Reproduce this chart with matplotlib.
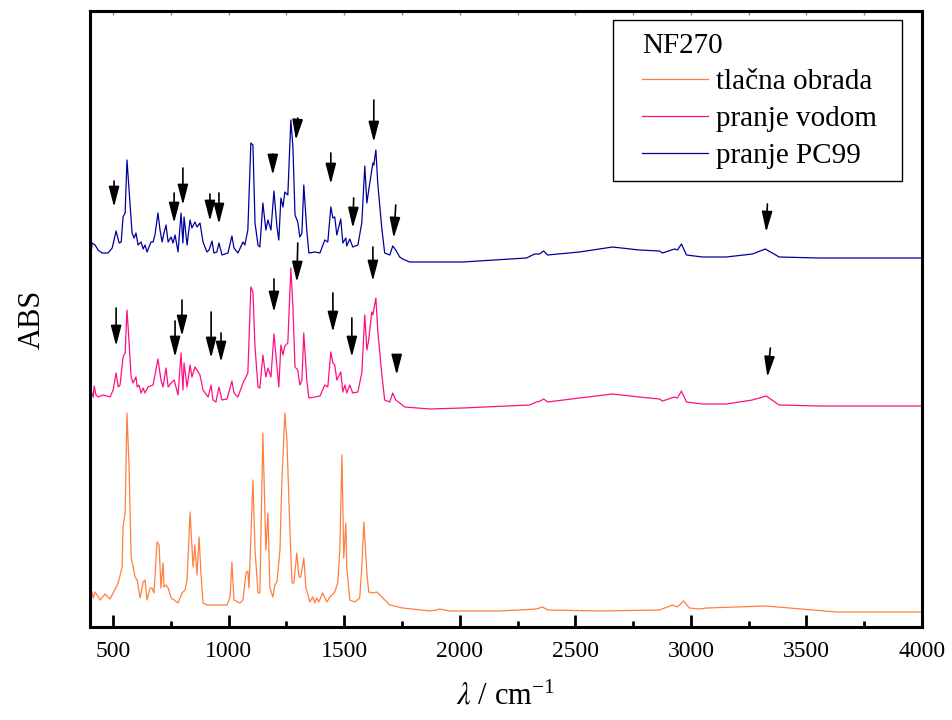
import numpy as np
import matplotlib
matplotlib.use('Agg')
import matplotlib.pyplot as plt
from matplotlib.ticker import MultipleLocator
from matplotlib.patches import Rectangle

plt.rcParams['font.family'] = ['Liberation Serif', 'DejaVu Serif']
plt.rcParams['mathtext.fontset'] = 'stix'

# spectra (wavenumber / cm-1, absorbance in arbitrary units)
wn_tlacna = [400, 409, 414, 422, 444, 465, 487, 500, 522, 539, 543, 552, 560, 569, 578, 595, 604, 617, 630, 638,
             647, 660, 668, 677, 690, 699, 707, 716, 720, 729, 738, 751, 764, 781, 798, 811, 820, 833, 846, 854,
             863, 872, 880, 889, 906, 941, 993, 1006, 1014, 1023, 1049, 1062, 1075, 1083, 1088, 1105, 1114, 1127,
             1135, 1148, 1161, 1170, 1178, 1191, 1200, 1209, 1222, 1230, 1243, 1252, 1265, 1274, 1282, 1295, 1304,
             1312, 1325, 1334, 1351, 1364, 1373, 1381, 1390, 1407, 1425, 1438, 1459, 1472, 1481, 1490, 1498, 1507,
             1511, 1524, 1546, 1567, 1576, 1585, 1598, 1606, 1624, 1641, 1667, 1697, 1753, 1870, 1900, 1913, 1956,
             2173, 2332, 2358, 2380, 2604, 2864, 2920, 2942, 2968, 2994, 3037, 3067, 3326, 3629, 3987, 4000]
abs_tlacna = [30, 35, 29, 35, 27, 33, 28, 34, 44, 60, 100, 114, 214, 160, 70, 50, 47, 29, 45, 47,
              27, 39, 39, 34, 85, 82, 39, 64, 40, 42, 39, 29, 27, 24, 34, 37, 47, 115, 60, 82,
              52, 90, 54, 24, 22, 22, 22, 30, 65, 27, 24, 27, 54, 56, 39, 147, 77, 34,
              34, 194, 77, 114, 40, 30, 42, 45, 77, 144, 214, 187, 97, 44, 44, 74, 50,
              50, 69, 40, 25, 30, 24, 29, 25, 34, 25, 30, 35, 44, 77, 172, 69, 104,
              60, 27, 25, 29, 60, 105, 54, 35, 34, 35, 29, 22, 19, 16, 17, 18, 16,
              16, 18, 20, 17, 16, 17, 22, 20, 26, 19, 18, 19, 21, 15, 15, 15]

wn_voda = [400, 414, 418, 426, 435, 457, 487, 500, 513, 522, 530, 543, 552, 560, 565, 578, 586, 599, 604, 612,
           621, 630, 638, 651, 673, 694, 707, 716, 729, 738, 751, 764, 772, 781, 794, 802, 807, 820, 833, 841,
           854, 863, 876, 889, 911, 924, 932, 945, 958, 971, 993, 1014, 1023, 1040, 1062, 1083, 1096, 1105,
           1114, 1127, 1135, 1148, 1161, 1170, 1183, 1196, 1209, 1217, 1226, 1235, 1243, 1256, 1269, 1278,
           1287, 1299, 1308, 1317, 1325, 1338, 1347, 1373, 1395, 1416, 1429, 1442, 1451, 1459, 1468, 1485,
           1494, 1503, 1511, 1524, 1537, 1559, 1576, 1589, 1598, 1606, 1619, 1624, 1637, 1645, 1662, 1675,
           1697, 1710, 1723, 1740, 1762, 1814, 1870, 2012, 2302, 2332, 2349, 2363, 2380, 2518, 2661, 2777,
           2864, 2877, 2929, 2942, 2959, 2981, 3050, 3153, 3266, 3326, 3382, 3555, 3987, 4000]
abs_voda = [240, 230, 241, 232, 230, 232, 230, 237, 254, 240, 242, 270, 274, 317, 300, 250, 244, 250, 240, 242,
            234, 239, 234, 240, 242, 268, 247, 240, 259, 240, 244, 247, 240, 232, 274, 237, 264, 240, 262, 250,
            260, 257, 252, 237, 230, 242, 227, 225, 240, 227, 228, 246, 234, 230, 244, 254, 340, 335,
            280, 240, 239, 272, 250, 259, 250, 293, 260, 240, 282, 272, 281, 284, 359, 320,
            260, 257, 242, 247, 294, 247, 229, 230, 231, 242, 240, 275, 264, 262, 247, 255,
            235, 242, 234, 242, 234, 235, 254, 312, 277, 287, 315, 312, 329, 297, 254, 227,
            225, 234, 227, 224, 220, 219, 218, 219, 222, 225, 226, 228, 225, 229, 233, 230,
            228, 226, 230, 229, 236, 225, 223, 223, 227, 231, 222, 221, 221, 221]

wn_pc99 = [400, 405, 409, 422, 435, 452, 478, 496, 513, 526, 535, 543, 552, 560, 569, 582, 591, 599, 608, 621, 630,
           638, 647, 664, 673, 681, 694, 703, 712, 720, 729, 738, 751, 759, 768, 781, 794, 802, 807, 820, 833,
           841, 854, 863, 876, 889, 906, 915, 928, 936, 949, 958, 971, 997, 1014, 1023, 1040, 1062, 1070,
           1083, 1096, 1105, 1114, 1127, 1135, 1148, 1161, 1170, 1183, 1196, 1209, 1217, 1226, 1235, 1243,
           1256, 1269, 1278, 1287, 1299, 1308, 1317, 1325, 1338, 1347, 1373, 1395, 1416, 1429, 1442, 1451,
           1459, 1468, 1485, 1494, 1507, 1511, 1524, 1537, 1559, 1576, 1589, 1598, 1606, 1624, 1628, 1637,
           1645, 1662, 1675, 1697, 1710, 1723, 1740, 1753, 1783, 1870, 2012, 2289, 2324, 2345, 2363, 2380,
           2518, 2661, 2777, 2864, 2877, 2929, 2942, 2959, 2981, 3050, 3153, 3266, 3322, 3382, 3555, 3987, 4000]
abs_pc99 = [380, 374, 384, 382, 377, 374, 374, 379, 396, 384, 385, 410, 414, 467, 437, 394, 389, 394, 382, 385, 378,
            382, 375, 385, 385, 392, 414, 397, 385, 394, 402, 385, 390, 384, 392, 375, 414, 384, 410, 382, 407,
            399, 405, 400, 404, 385, 375, 377, 386, 374, 375, 384, 372, 374, 391, 379, 374, 385, 382,
            397, 484, 482, 404, 382, 380, 424, 397, 407, 397, 436, 400, 387, 429, 420, 435,
            432, 507, 480, 412, 405, 390, 394, 442, 397, 374, 375, 374, 387, 385, 420, 409,
            410, 392, 408, 384, 389, 381, 388, 380, 382, 404, 461, 424, 437, 464, 462, 477,
            444, 400, 374, 372, 381, 377, 370, 368, 365, 365, 365, 369, 373, 373, 376, 372,
            375, 380, 377, 376, 374, 378, 377, 383, 372, 370, 370, 373, 378, 370, 369, 369, 369]

# arrows: (wn at tail, wn at tip, y at tail, y at tip)
arrow_wn_top = [504, 764, 802, 919, 958, 1191, 1299, 1442, 1541, 1628, 1723, 3331,
                513, 768, 798, 924, 967, 1196, 1299, 1451, 1533, 1624, 1727, 3344]
arrow_wn_tip = [504, 764, 802, 919, 958, 1191, 1291, 1442, 1537, 1628, 1714, 3326,
                513, 768, 798, 924, 967, 1196, 1295, 1451, 1533, 1624, 1727, 3331]
arrow_y_top = [446, 434, 459, 433, 434, 473, 509, 474, 429, 527, 422, 423,
               319, 306, 327, 315, 294, 348, 384, 334, 309, 380, 269, 279]
arrow_y_tip = [420, 404, 422, 406, 403, 452, 487, 443, 399, 485, 389, 395,
               281, 270, 291, 269, 265, 315, 345, 295, 270, 346, 252, 250]

labels = ['tlačna obrada', 'pranje vodom', 'pranje PC99']
colors = ['#FF7F3F', '#FF1080', '#00009C']

fig = plt.figure(figsize=(9.52, 7.2), dpi=100)
ax = fig.add_axes([90 / 952, 93 / 720, 832 / 952, 616 / 720])

ax.plot(wn_tlacna, abs_tlacna, color=colors[0], lw=0.9, label=labels[0])
ax.plot(wn_voda, abs_voda, color=colors[1], lw=0.9, label=labels[1])
ax.plot(wn_pc99, abs_pc99, color=colors[2], lw=0.9, label=labels[2])

for x0, x1, y0, y1 in zip(arrow_wn_top, arrow_wn_tip, arrow_y_top, arrow_y_tip):
    ax.annotate('', xy=(x1, y1), xytext=(x0, y0),
                arrowprops=dict(arrowstyle='-|>,head_length=0.62,head_width=0.16',
                                color='black', lw=1.2, shrinkA=0, shrinkB=0,
                                mutation_scale=20))

ax.set_xlim(400, 4000)
ax.set_ylim(0, 616)
ax.xaxis.set_major_locator(MultipleLocator(500))
ax.xaxis.set_minor_locator(MultipleLocator(250))
ax.tick_params(axis='x', which='major', direction='in', length=9, width=2, labelsize=17, pad=10)
ax.tick_params(axis='x', which='minor', direction='in', length=4, width=2)
ax.set_yticks([])
for s in ax.spines.values():
    s.set_linewidth(2.2)

# short faint ticks along the top edge
top = ax.secondary_xaxis('top')
top.xaxis.set_major_locator(MultipleLocator(500))
top.xaxis.set_minor_locator(MultipleLocator(250))
top.tick_params(which='both', direction='in', length=3, width=1, color='#888888', labeltop=False)
top.spines['top'].set_visible(False)

ax.set_xlabel(r'$\lambda$ / cm$^{\mathregular{-1}}$', fontsize=22, labelpad=14)
ax.set_ylabel('ABS', fontsize=22, labelpad=31)

# legend box drawn separately so the padding matches the original
ax.add_patch(Rectangle((0.6286, 0.724), 0.3474, 0.2614, transform=ax.transAxes,
                       fill=True, facecolor='white', edgecolor='black', lw=1, zorder=5))
leg = ax.legend(title='NF270', loc='upper left', bbox_to_anchor=(0.6635, 0.965), borderaxespad=0,
                fontsize=21, title_fontsize=21, alignment='left', frameon=False,
                handlelength=2.25, handletextpad=0.3, labelspacing=0.36, borderpad=0)
leg.set_zorder(6)

fig.savefig('out.png', dpi=100)
